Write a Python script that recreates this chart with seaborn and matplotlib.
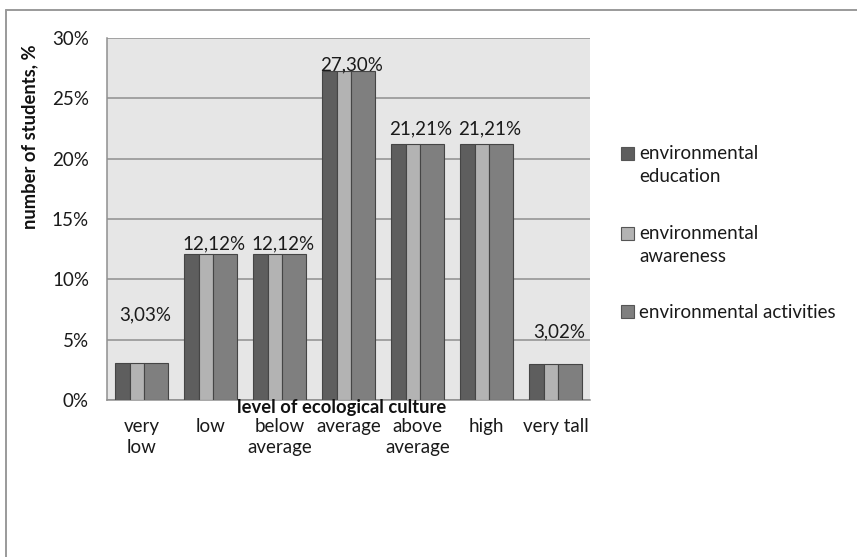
import numpy as np
import pandas as pd
import seaborn as sns
import matplotlib
matplotlib.use("Agg")
import matplotlib.pyplot as plt
from matplotlib.lines import Line2D
from matplotlib.patches import Rectangle
from matplotlib.legend_handler import HandlerPatch

# ---- data -------------------------------------------------------------
levels = ["very\nlow", "low", "below\naverage", "average",
          "above\naverage", "high", "very tall"]
series = ["environmental\neducation", "environmental\nawareness",
          "environmental activities"]
education = [3.03, 12.12, 12.12, 27.30, 21.21, 21.21, 3.02]
awareness = [3.03, 12.12, 12.12, 27.30, 21.21, 21.21, 3.02]
activities = [3.03, 12.12, 12.12, 27.30, 21.21, 21.21, 3.02]
value_labels = ["3,03%", "12,12%", "12,12%", "27,30%", "21,21%", "21,21%", "3,02%"]
y_ticks = [0, 5, 10, 15, 20, 25, 30]

df = pd.DataFrame({
    "level": levels * 3,
    "indicator": [series[0]] * 7 + [series[1]] * 7 + [series[2]] * 7,
    "value": education + awareness + activities,
})

# ---- style ------------------------------------------------------------
sns.set_theme(style="white")
plt.rcParams["font.family"] = ["Lato", "DejaVu Sans"]
FS = 13.5
TXT = "#1a1a1a"
LEG_LS = 1.45
colors = ["#5e5e5e", "#b3b3b3", "#7f7f7f"]
bar_offsets = [-0.377, -0.160, 0.036]   # left edge of each series bar within a group
bar_widths = [0.217, 0.196, 0.341]
label_lift = [3.6, 0.35, 0.35, 0.05, 0.8, 0.8, 2.2]

W, H = 857, 557
fig = plt.figure(figsize=(W / 100, H / 100), dpi=100)
ax = fig.add_axes([107 / W, 1 - 400 / H, (590 - 107) / W, (400 - 38) / H])

sns.barplot(data=df, x="level", y="value", hue="indicator", order=levels,
            hue_order=series, palette=colors, saturation=1, width=0.75,
            edgecolor="#454545", linewidth=0.8, ax=ax, legend=False, zorder=3)

for i, cont in enumerate(ax.containers):
    for j, bar in enumerate(cont):
        bar.set_x(j + bar_offsets[i])
        bar.set_width(bar_widths[i])

ax.set_facecolor("#e6e6e6")
ax.set_xlim(-0.5, 6.5)
ax.set_ylim(0, 30)
ax.set_yticks(y_ticks)
ax.set_yticklabels([f"{t}%" for t in y_ticks], fontsize=FS, color=TXT)
ax.set_xticks(range(len(levels)))
ax.set_xticklabels(levels, fontsize=FS, color=TXT, linespacing=1.25)
ax.tick_params(axis="both", length=0)
ax.tick_params(axis="y", pad=13)
ax.tick_params(axis="x", pad=13)
ax.yaxis.grid(True, color="#8f8f8f", linewidth=1.1, zorder=0)
ax.set_axisbelow(True)
ax.set_xlabel("")
ax.set_ylabel("")
for side in ["top", "right"]:
    ax.spines[side].set_visible(False)
for side in ["left", "bottom"]:
    ax.spines[side].set_color("#8f8f8f")
    ax.spines[side].set_linewidth(1.1)

# value labels above each group
for j, (v, txt) in enumerate(zip(education, value_labels)):
    ax.text(j + 0.05, v + label_lift[j], txt, ha="center", va="baseline",
            fontsize=FS, color=TXT, zorder=4)

# axis titles
fig.text(30 / W, 1 - 137 / H, "number of students, %", rotation=90,
         ha="center", va="center", fontsize=FS - 0.3, fontweight="bold",
         color="#111111")
fig.text(342 / W, 1 - 408 / H, "level of ecological culture", ha="center",
         va="center", fontsize=FS - 0.3, fontweight="bold", color="#111111")


# legend: square key aligned with the first line of its label
# (the legend centres keys on the whole label block, so lift by half a line per extra line)
class TopAlignedPatch(HandlerPatch):
    def create_artists(self, legend, orig_handle, xdescent, ydescent,
                       width, height, fontsize, trans):
        nlines = orig_handle.get_label().count("\n")
        shift = nlines * 0.5 * 0.87 * LEG_LS * fontsize
        p = Rectangle((-xdescent, -ydescent + shift), width, height,
                      facecolor=orig_handle.get_facecolor(),
                      edgecolor="#555555", linewidth=0.8, transform=trans)
        return [p]


handles = [Rectangle((0, 0), 1, 1, facecolor=c, label=s)
           for c, s in zip(colors, series)]
leg = fig.legend(handles=handles, labels=series, loc="upper left",
                 bbox_to_anchor=(621 / W, 1 - 145 / H), frameon=False,
                 fontsize=FS, handlelength=0.68, handleheight=0.66,
                 handletextpad=0.28, labelspacing=2.1, borderpad=0,
                 borderaxespad=0,
                 handler_map={Rectangle: TopAlignedPatch()})
for t in leg.get_texts():
    t.set_color(TXT)
    t.set_linespacing(LEG_LS)

# outer frame
fig.add_artist(Line2D([6 / W, 6 / W], [0, 1 - 10 / H], transform=fig.transFigure,
                      color="#9a9a9a", linewidth=1.4))
fig.add_artist(Line2D([6 / W, 1], [1 - 10 / H, 1 - 10 / H], transform=fig.transFigure,
                      color="#9a9a9a", linewidth=1.4))

fig.savefig("out.png", dpi=100, facecolor="white")
